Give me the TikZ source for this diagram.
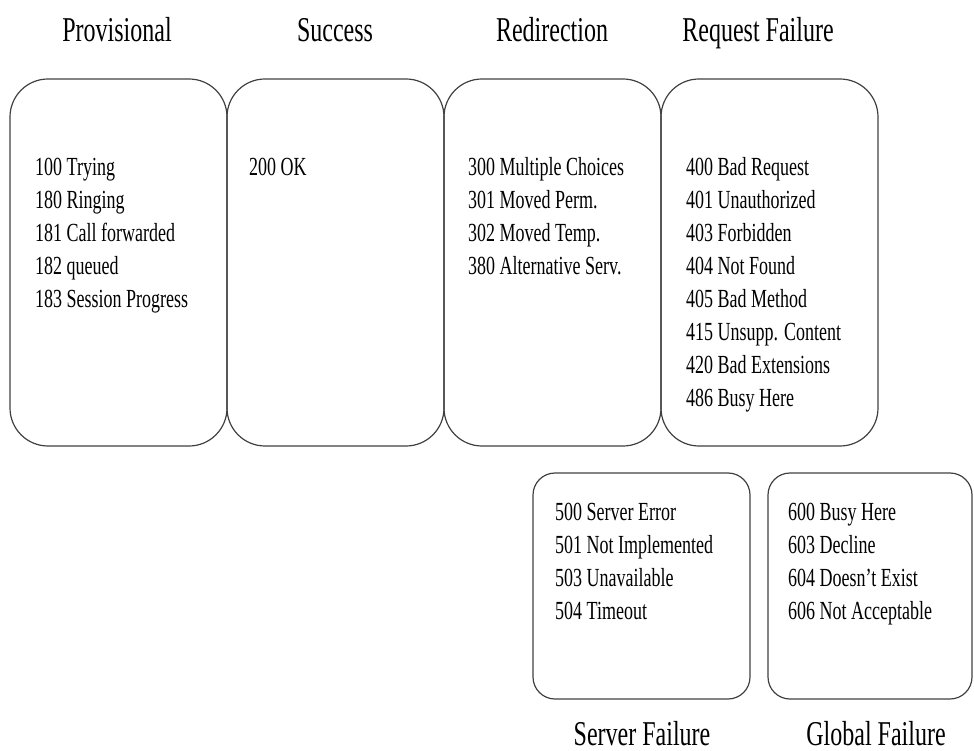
\documentclass[tikz,border=0pt]{standalone}
\usepackage{fontspec}
\setmainfont{Liberation Serif}
\usetikzlibrary{positioning}
\newcommand{\tall}[1]{\scalebox{1}[1.45]{#1}}
\newcommand{\codelist}[1]{\scalebox{1}[1.45]{\begin{tabular}{@{}l@{}}#1\end{tabular}}}

\begin{document}
\begin{tikzpicture}[x=1pt,y=-1pt,
    group/.style={rectangle,draw=black!75,line width=1.2pt,rounded corners=38pt,outer sep=0pt,inner sep=0pt,minimum width=217pt,minimum height=367pt},
    small group/.style={group,rounded corners=22pt,minimum height=226pt},
    title/.style={anchor=base,inner sep=0pt,font=\fontsize{24}{28}\selectfont},
    codes/.style={anchor=north west,inner sep=0pt,font=\fontsize{18}{22.8}\selectfont}]
    \useasboundingbox (0,0) rectangle (974,751);

    \node[group, anchor=north west] (prov) at (10,79) {};
    \node[group, right=0pt of prov]  (succ) {};
    \node[group, right=0pt of succ]  (redir) {};
    \node[group, right=0pt of redir] (reqfail) {};
    \node[small group, anchor=north west] (servfail) at (533,473) {};
    \node[small group, anchor=north west, minimum width=204pt] (globfail) at (768,473) {};

    \node[title] (provtitle)  at (117,42) {\tall{Provisional}};
    \node[title] (succtitle)  at (335,42) {\tall{Success}};
    \node[title] (redirtitle) at (552,42) {\tall{Redirection}};
    \node[title] (reqtitle)   at (758,42) {\tall{Request Failure}};
    \node[title] (servtitle)  at (642,745) {\tall{Server Failure}};
    \node[title] (globtitle)  at (876,745) {\tall{Global Failure}};

    \node[codes, below right=73pt and 25pt of prov.north west] (provlist)
        {\codelist{100 Trying\\180 Ringing\\181 Call forwarded\\182 queued\\183 Session Progress}};
    \node[codes, below right=73pt and 22pt of succ.north west] (succlist)
        {\codelist{200 OK}};
    \node[codes, below right=73pt and 24pt of redir.north west] (redirlist)
        {\codelist{300 Multiple Choices\\301 Moved Perm.\\302 Moved Temp.\\380 Alternative Serv.}};
    \node[codes, below right=73pt and 25pt of reqfail.north west] (reqlist)
        {\codelist{400 Bad Request\\401 Unauthorized\\403 Forbidden\\404 Not Found\\405 Bad Method\\415 Unsupp. Content\\420 Bad Extensions\\486 Busy Here}};
    \node[codes, below right=24pt and 22pt of servfail.north west] (servlist)
        {\codelist{500 Server Error\\501 Not Implemented\\503 Unavailable\\504 Timeout}};
    \node[codes, below right=24pt and 20pt of globfail.north west] (globlist)
        {\codelist{600 Busy Here\\603 Decline\\604 Doesn’t Exist\\606 Not Acceptable}};
\end{tikzpicture}
\end{document}
